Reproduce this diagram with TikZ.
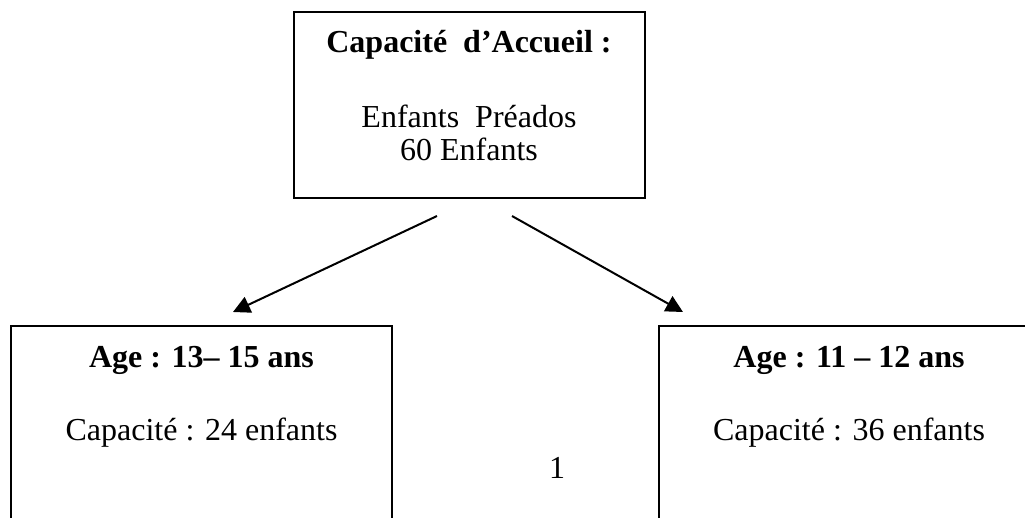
\documentclass[tikz,border=0pt]{standalone}
\usepackage{fontspec}
\setmainfont{Liberation Serif}
\usetikzlibrary{arrows.meta}
\begin{document}
\begin{tikzpicture}[x=1pt,y=-1pt,
  boxline/.style={draw=black,line width=2pt},
  txt/.style={anchor=base,inner sep=0pt,font=\fontsize{32}{38}\selectfont},
  btxt/.style={txt,font=\fontsize{32}{38}\selectfont\bfseries},
  arr/.style={line width=2pt,-{Triangle[length=17pt,width=17pt]}}]
\useasboundingbox (0,0) rectangle (1025,517);
\clip (0,0) rectangle (1025,517);
% boxes
\node[boxline,inner sep=0pt,minimum width=351pt,minimum height=186pt] (top) at (469.5,105) {};
\node[boxline,inner sep=0pt,minimum width=381pt,minimum height=240pt] (left) at (201.5,446) {};
\node[boxline,inner sep=0pt,minimum width=381pt,minimum height=240pt] (right) at (849.5,446) {};
% texts
\node[btxt] (t1) at (469,52) {Capacité~ d’Accueil :};
\node[txt] (t2) at (469,127) {Enfants~ Préados};
\node[txt] (t3) at (469,160) {60 Enfants};
\node[btxt] (l1) at (201.5,367) {Age : 13– 15 ans};
\node[txt] (l2) at (201.5,440) {Capacité : 24 enfants};
\node[btxt] (r1) at (849,367) {Age : 11 – 12 ans};
\node[txt] (r2) at (849,440) {Capacité : 36 enfants};
\node[txt] (pg) at (557,478) {1};
% arrows
\coordinate (a1s) at (437,216);
\coordinate (a1e) at (233,312);
\coordinate (a2s) at (512,216);
\coordinate (a2e) at (683,312);
\draw[arr] (a1s) -- (a1e);
\draw[arr] (a2s) -- (a2e);
\end{tikzpicture}
\end{document}
